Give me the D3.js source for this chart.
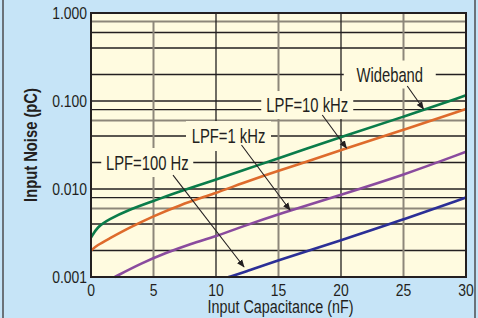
<!doctype html>
<html>
  <head>
    <script src="https://cdnjs.cloudflare.com/ajax/libs/d3/7.8.5/d3.min.js"></script>
    <style>
      body { margin: 0; background: #c6e4f7; }
      svg { display: block; }
      text { font-family: "Liberation Sans", Arial, sans-serif; fill: #231f20; }
      .tick { font-size: 17px; }
      .label { font-size: 19.5px; text-anchor: middle; }
    </style>
  </head>
  <body>
    <svg id="chart" width="478" height="318"></svg>
    <script>
      // Input capacitance (nF) -> input noise (pC)
      var wideC = [0, 0.5, 1.4, 3, 5, 7, 10, 12, 15, 17, 20, 25, 30];
      var wideN = [0.0028, 0.0037, 0.0045, 0.0058, 0.0073, 0.0093, 0.0128, 0.016, 0.0224, 0.0279, 0.039, 0.066, 0.116];

      var lpf10kC = [0, 0.5, 1.4, 3, 5, 7, 10, 12, 15, 17, 20, 25, 30];
      var lpf10kN = [0.0020, 0.0023, 0.0027, 0.0036, 0.0049, 0.0065, 0.009, 0.0115, 0.0162, 0.0198, 0.0277, 0.047, 0.081];

      var lpf1kC = [1.9, 4, 6, 8, 10, 12, 15, 20, 25, 30];
      var lpf1kN = [0.001, 0.00143, 0.00188, 0.0024, 0.0029, 0.0037, 0.0052, 0.0086, 0.0144, 0.0265];

      var lpf100C = [11, 12, 15, 20, 25, 30];
      var lpf100N = [0.001, 0.0011, 0.00156, 0.0026, 0.0045, 0.008];

      var xTicks = [0, 5, 10, 15, 20, 25, 30];
      var yTicks = [0.001, 0.01, 0.1, 1];
      var yTickLabels = ["0.001", "0.010", "0.100", "1.000"];
      var yGrid = [0.002, 0.004, 0.006, 0.008, 0.02, 0.04, 0.06, 0.08, 0.2, 0.4, 0.6, 0.8];
      var yGridGray = [0.006, 0.06, 0.8];
      var xGridGray = [5, 15, 25];

      var seriesNames = ["LPF=100 Hz", "LPF=1 kHz", "LPF=10 kHz", "Wideband"];
      var seriesColors = ["#2b2f96", "#8a4b9e", "#de6b2c", "#0a7c4a"];
      // label centre (C, noise), arrow start, arrow end
      var labelAt = [[4.5, 0.02], [11, 0.04], [17.3, 0.09], [23.9, 0.2]];
      var labelBox = [[92, 29], [85, 30], [92, 28], [92, 28]];
      var arrowFrom = [[6.56, 0.0144], [12.04, 0.0316], [18.5, 0.0694], [25.3, 0.148]];
      var arrowTo = [[12.24, 0.0013], [15.92, 0.00577], [20.44, 0.0292], [26.6, 0.081]];

      var narrow = 0.82; // squeeze the sans to look like a condensed face

      var svg = d3.select("#chart");
      var margin = { left: 91, right: 12, top: 13, bottom: 41 };
      var w = 478 - margin.left - margin.right;
      var h = 318 - margin.top - margin.bottom;

      var x = d3.scaleLinear().domain([0, 30]).range([0, w]);
      var y = d3.scaleLog().domain([0.001, 1]).range([h, 0]);

      // outer panel edges
      svg.append("line").attr("x1", 3).attr("x2", 3).attr("y1", 0).attr("y2", 318)
        .attr("stroke", "#4d4d4f").attr("stroke-width", 1.5);
      svg.append("line").attr("x1", 475).attr("x2", 475).attr("y1", 0).attr("y2", 318)
        .attr("stroke", "#4d4d4f").attr("stroke-width", 1.5);

      var g = svg.append("g").attr("transform", `translate(${margin.left},${margin.top})`);

      g.append("rect").attr("width", w).attr("height", h).attr("fill", "#fffbe0");

      // grid
      g.selectAll("line.hgrid")
        .data(yGrid.concat(yTicks))
        .enter().append("line")
          .attr("class", "hgrid")
          .attr("x1", 0).attr("x2", w)
          .attr("y1", d => y(d)).attr("y2", d => y(d))
          .attr("stroke", d => yGridGray.includes(d) ? "#8d877a" : "#231f20")
          .attr("stroke-width", d => yGridGray.includes(d) ? 2 : 1.3);

      g.selectAll("line.vgrid")
        .data(xTicks)
        .enter().append("line")
          .attr("class", "vgrid")
          .attr("y1", d => d === 5 ? y(0.8) : 0).attr("y2", h)
          .attr("x1", d => x(d)).attr("x2", d => x(d))
          .attr("stroke", d => xGridGray.includes(d) ? "#8d877a" : "#231f20")
          .attr("stroke-width", d => xGridGray.includes(d) ? 2 : 1.3);

      // label backgrounds knock out the grid
      g.selectAll("rect.lblbox")
        .data(labelAt)
        .enter().append("rect")
          .attr("class", "lblbox")
          .attr("x", (d, i) => x(d[0]) - labelBox[i][0] / 2)
          .attr("y", (d, i) => y(d[1]) - labelBox[i][1] / 2)
          .attr("width", (d, i) => labelBox[i][0])
          .attr("height", (d, i) => labelBox[i][1])
          .attr("fill", "#fffbe0");

      // curves
      var line = d3.line()
        .x(d => x(d[0]))
        .y(d => y(d[1]))
        .curve(d3.curveBasis);

      var series = [
        d3.zip(lpf100C, lpf100N),
        d3.zip(lpf1kC, lpf1kN),
        d3.zip(lpf10kC, lpf10kN),
        d3.zip(wideC, wideN)
      ];

      g.selectAll("path.series")
        .data(series)
        .enter().append("path")
          .attr("class", "series")
          .attr("d", line)
          .attr("fill", "none")
          .attr("stroke", (d, i) => seriesColors[i])
          .attr("stroke-width", 2.6);

      // arrows
      svg.append("defs").append("marker")
        .attr("id", "head")
        .attr("viewBox", "0 0 10 10")
        .attr("refX", 9).attr("refY", 5)
        .attr("markerWidth", 8).attr("markerHeight", 8)
        .attr("markerUnits", "userSpaceOnUse")
        .attr("orient", "auto")
        .append("path")
          .attr("d", "M0,1 L10,5 L0,9 Z")
          .attr("fill", "#231f20");

      g.selectAll("line.arrow")
        .data(arrowFrom)
        .enter().append("line")
          .attr("class", "arrow")
          .attr("x1", d => x(d[0])).attr("y1", d => y(d[1]))
          .attr("x2", (d, i) => x(arrowTo[i][0])).attr("y2", (d, i) => y(arrowTo[i][1]))
          .attr("stroke", "#231f20")
          .attr("stroke-width", 1.1)
          .attr("marker-end", "url(#head)");

      g.selectAll("text.label")
        .data(seriesNames)
        .enter().append("text")
          .attr("class", "label")
          .attr("transform", (d, i) => `translate(${x(labelAt[i][0])},${y(labelAt[i][1])}) scale(0.76,1)`)
          .attr("dy", "0.36em")
          .text(d => d);

      // plot frame
      g.append("rect").attr("width", w).attr("height", h)
        .attr("fill", "none").attr("stroke", "#231f20").attr("stroke-width", 2);

      // tick labels
      g.selectAll("text.ytick")
        .data(yTicks)
        .enter().append("text")
          .attr("class", "tick")
          .attr("transform", d => `translate(-4,${y(d)}) scale(${narrow},1)`)
          .attr("dy", "0.36em")
          .attr("text-anchor", "end")
          .text((d, i) => yTickLabels[i]);

      g.selectAll("text.xtick")
        .data(xTicks)
        .enter().append("text")
          .attr("class", "tick")
          .attr("transform", d => `translate(${x(d)},${h + 19}) scale(${narrow},1)`)
          .attr("text-anchor", "middle")
          .text(d => d);

      // axis titles
      g.append("text")
        .attr("transform", `translate(${w / 2 + 2},${h + 36}) scale(${narrow},1)`)
        .attr("text-anchor", "middle")
        .style("font-size", "17.5px")
        .text("Input Capacitance (nF)");

      g.append("text")
        .attr("transform", `translate(${37 - margin.left},${h / 2}) rotate(-90) scale(${narrow},1)`)
        .attr("text-anchor", "middle")
        .style("font-size", "18px")
        .style("font-weight", "bold")
        .text("Input Noise (pC)");
    </script>
  </body>
</html>
